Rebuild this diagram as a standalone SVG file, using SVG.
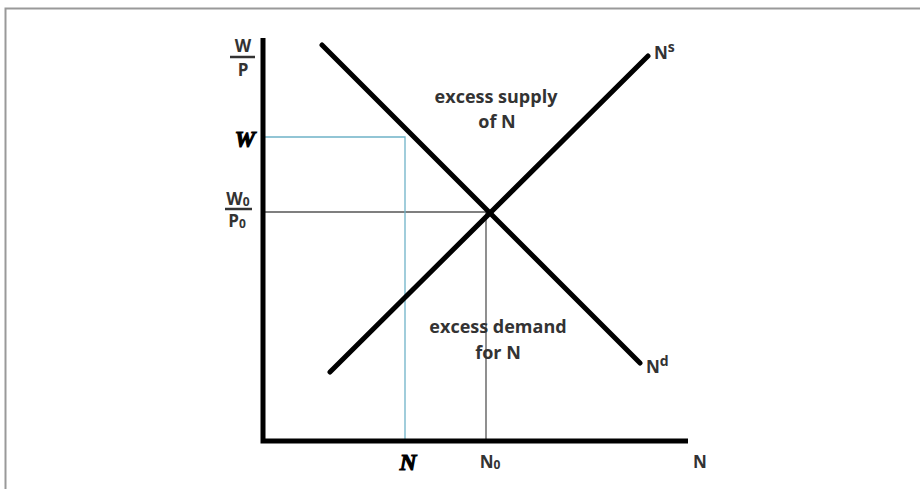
<svg xmlns="http://www.w3.org/2000/svg" width="920" height="489" viewBox="0 0 920 489">
<style>
.lbl{font-family:"Open Sans","Liberation Sans",sans-serif;font-weight:bold;font-size:17px;fill:#333}
.big{font-size:18px}
.it{font-family:"Liberation Serif",serif;font-weight:bold;font-style:italic;font-size:23px;fill:#000;stroke:#000;stroke-width:1.2}
.ax{stroke:#000;stroke-width:5;fill:none}
.cv{stroke:#000;stroke-width:5;fill:none;stroke-linecap:round}
</style>
<rect width="920" height="489" fill="#fff"/>
<path d="M5.5 489 V8.5 H920" stroke="#999" stroke-width="2" fill="none"/>
<g id="connectors">
<path d="M263 212 H486 V441" stroke="#555" stroke-width="1.3" fill="none"/>
<path d="M263 137 H405 V441" stroke="#6fb3c8" stroke-width="1.3" fill="none"/>
<path class="ax" d="M263 38 V441 H688"/>
<line class="cv" x1="322" y1="45" x2="640" y2="363"/>
<line class="cv" x1="330" y1="372" x2="648" y2="56"/>
</g>
<g id="ylabel">
<text class="lbl" x="243" y="52" text-anchor="middle">W</text>
<line x1="230" y1="57" x2="255" y2="57" stroke="#333" stroke-width="2.5"/>
<text class="lbl" x="243" y="76" text-anchor="middle">P</text>
</g>
<g id="wlabel"><text class="it" x="245" y="147" text-anchor="middle">W</text></g>
<g id="w0p0">
<text class="lbl" x="238" y="205" text-anchor="middle">W<tspan font-size="12" dy="1">0</tspan></text>
<line x1="225" y1="209" x2="252" y2="209" stroke="#333" stroke-width="2.5"/>
<text class="lbl" x="237" y="227" text-anchor="middle">P<tspan font-size="12" dy="1">0</tspan></text>
</g>
<g id="supply"><text class="lbl big" x="496" y="103" text-anchor="middle">excess supply</text><text class="lbl big" x="497" y="128" text-anchor="middle">of N</text></g>
<g id="demand"><text class="lbl big" x="498" y="333" text-anchor="middle">excess demand</text><text class="lbl big" x="498" y="359" text-anchor="middle">for N</text></g>
<g id="ns"><text class="lbl" x="654" y="59">N<tspan font-size="14" dy="-7">s</tspan></text></g>
<g id="nd"><text class="lbl" x="646" y="373">N<tspan font-size="14" dy="-7">d</tspan></text></g>
<g id="nlabel"><text class="it" x="408" y="470" text-anchor="middle">N</text></g>
<g id="n0"><text class="lbl" x="490" y="468" text-anchor="middle">N<tspan font-size="12" dy="1">0</tspan></text></g>
<g id="naxis"><text class="lbl" x="700" y="468" text-anchor="middle">N</text></g>
</svg>
